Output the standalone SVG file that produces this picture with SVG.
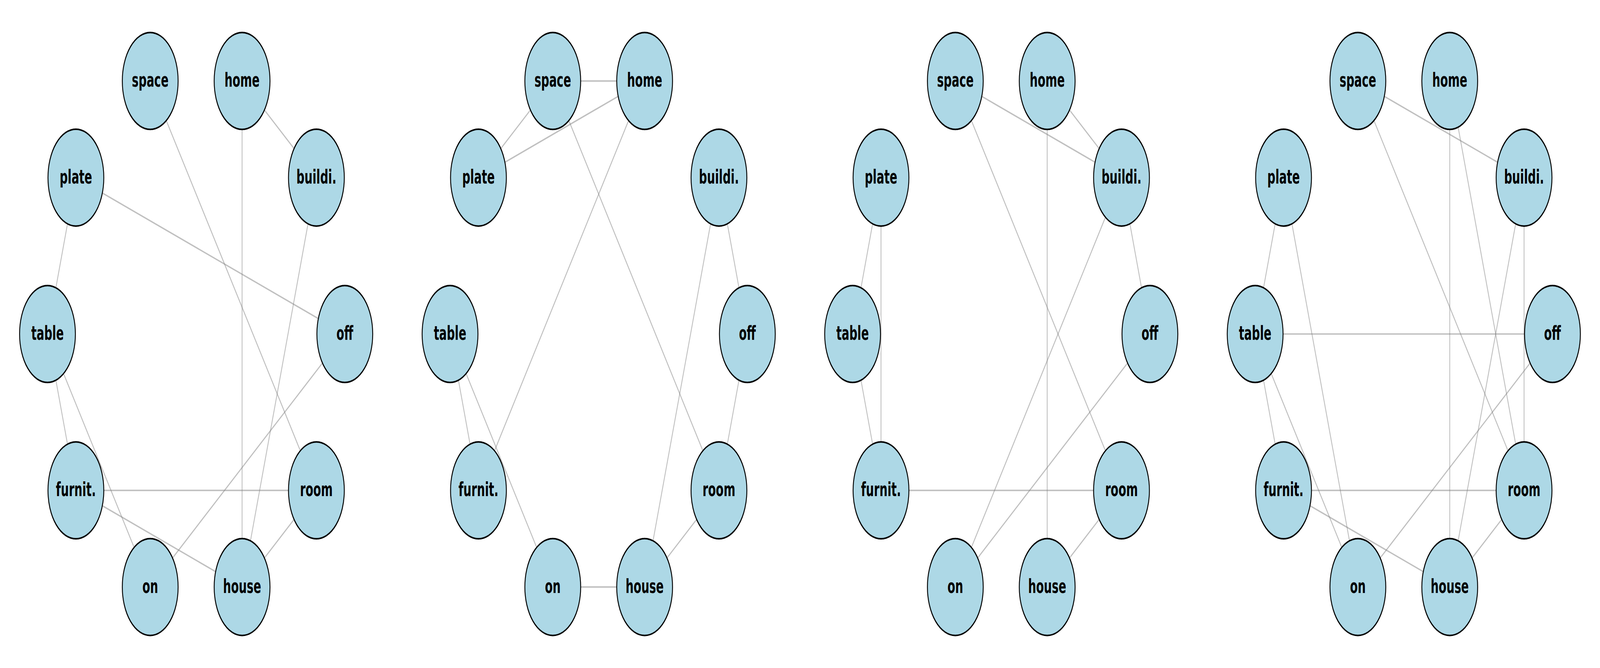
<svg xmlns="http://www.w3.org/2000/svg" width="7109" height="1710" viewBox="0 0 7109 1710" preserveAspectRatio="none" style="width:100vw;height:100vh">
<style>
.edges line { stroke:#808080; stroke-opacity:0.5; stroke-width:3.7; fill:none; }
.node circle { fill:#ADD8E6; stroke:#000000; stroke-width:4; }
.node text { font-family:"DejaVu Sans", "Liberation Sans", sans-serif; font-weight:bold; font-size:50px; text-anchor:middle; fill:#000000; }
</style>
<rect x="0" y="0" width="7109" height="1710" fill="#ffffff"/>

<g id="panel1" transform="translate(0,0)">
<g id="p1-edges" class="edges">
<line x1="1075.6" y1="207.3" x2="1405.8" y2="454.7"/>
<line x1="667.4" y1="207.3" x2="1405.8" y2="1255.3"/>
<line x1="1075.6" y1="207.3" x2="1075.6" y2="1502.7"/>
<line x1="337.2" y1="454.7" x2="1532" y2="855"/>
<line x1="1405.8" y1="454.7" x2="1075.6" y2="1502.7"/>
<line x1="337.2" y1="454.7" x2="211" y2="855"/>
<line x1="211" y1="855" x2="337.2" y2="1255.3"/>
<line x1="211" y1="855" x2="667.4" y2="1502.7"/>
<line x1="1532" y1="855" x2="667.4" y2="1502.7"/>
<line x1="337.2" y1="1255.3" x2="1405.8" y2="1255.3"/>
<line x1="337.2" y1="1255.3" x2="1075.6" y2="1502.7"/>
<line x1="1405.8" y1="1255.3" x2="1075.6" y2="1502.7"/>
</g>
<g id="p1-space" class="node"><circle cx="667.4" cy="207.3" r="124"/><text x="667.4" y="222.3">space</text></g>
<g id="p1-home" class="node"><circle cx="1075.6" cy="207.3" r="124"/><text x="1075.6" y="222.3">home</text></g>
<g id="p1-buildi" class="node"><circle cx="1405.8" cy="454.7" r="124"/><text x="1405.8" y="469.7">buildi.</text></g>
<g id="p1-off" class="node"><circle cx="1532" cy="855" r="124"/><text x="1532" y="870">off</text></g>
<g id="p1-room" class="node"><circle cx="1405.8" cy="1255.3" r="124"/><text x="1405.8" y="1270.3">room</text></g>
<g id="p1-house" class="node"><circle cx="1075.6" cy="1502.7" r="124"/><text x="1075.6" y="1517.7">house</text></g>
<g id="p1-on" class="node"><circle cx="667.4" cy="1502.7" r="124"/><text x="667.4" y="1517.7">on</text></g>
<g id="p1-furnit" class="node"><circle cx="337.2" cy="1255.3" r="124"/><text x="337.2" y="1270.3">furnit.</text></g>
<g id="p1-table" class="node"><circle cx="211" cy="855" r="124"/><text x="211" y="870">table</text></g>
<g id="p1-plate" class="node"><circle cx="337.2" cy="454.7" r="124"/><text x="337.2" y="469.7">plate</text></g>
</g>

<g id="panel2" transform="translate(1788.6,0)">
<g id="p2-edges" class="edges">
<line x1="667.4" y1="207.3" x2="1075.6" y2="207.3"/>
<line x1="667.4" y1="207.3" x2="337.2" y2="454.7"/>
<line x1="337.2" y1="454.7" x2="1075.6" y2="207.3"/>
<line x1="1075.6" y1="207.3" x2="337.2" y2="1255.3"/>
<line x1="667.4" y1="207.3" x2="1405.8" y2="1255.3"/>
<line x1="1405.8" y1="454.7" x2="1532" y2="855"/>
<line x1="1405.8" y1="454.7" x2="1075.6" y2="1502.7"/>
<line x1="1532" y1="855" x2="1405.8" y2="1255.3"/>
<line x1="1405.8" y1="1255.3" x2="1075.6" y2="1502.7"/>
<line x1="667.4" y1="1502.7" x2="1075.6" y2="1502.7"/>
<line x1="211" y1="855" x2="337.2" y2="1255.3"/>
<line x1="211" y1="855" x2="667.4" y2="1502.7"/>
</g>
<g id="p2-space" class="node"><circle cx="667.4" cy="207.3" r="124"/><text x="667.4" y="222.3">space</text></g>
<g id="p2-home" class="node"><circle cx="1075.6" cy="207.3" r="124"/><text x="1075.6" y="222.3">home</text></g>
<g id="p2-buildi" class="node"><circle cx="1405.8" cy="454.7" r="124"/><text x="1405.8" y="469.7">buildi.</text></g>
<g id="p2-off" class="node"><circle cx="1532" cy="855" r="124"/><text x="1532" y="870">off</text></g>
<g id="p2-room" class="node"><circle cx="1405.8" cy="1255.3" r="124"/><text x="1405.8" y="1270.3">room</text></g>
<g id="p2-house" class="node"><circle cx="1075.6" cy="1502.7" r="124"/><text x="1075.6" y="1517.7">house</text></g>
<g id="p2-on" class="node"><circle cx="667.4" cy="1502.7" r="124"/><text x="667.4" y="1517.7">on</text></g>
<g id="p2-furnit" class="node"><circle cx="337.2" cy="1255.3" r="124"/><text x="337.2" y="1270.3">furnit.</text></g>
<g id="p2-table" class="node"><circle cx="211" cy="855" r="124"/><text x="211" y="870">table</text></g>
<g id="p2-plate" class="node"><circle cx="337.2" cy="454.7" r="124"/><text x="337.2" y="469.7">plate</text></g>
</g>

<g id="panel3" transform="translate(3577.2,0)">
<g id="p3-edges" class="edges">
<line x1="667.4" y1="207.3" x2="1405.8" y2="454.7"/>
<line x1="1075.6" y1="207.3" x2="1405.8" y2="454.7"/>
<line x1="1075.6" y1="207.3" x2="1075.6" y2="1502.7"/>
<line x1="667.4" y1="207.3" x2="1405.8" y2="1255.3"/>
<line x1="1405.8" y1="454.7" x2="667.4" y2="1502.7"/>
<line x1="1405.8" y1="454.7" x2="1532" y2="855"/>
<line x1="337.2" y1="454.7" x2="211" y2="855"/>
<line x1="337.2" y1="454.7" x2="337.2" y2="1255.3"/>
<line x1="211" y1="855" x2="337.2" y2="1255.3"/>
<line x1="337.2" y1="1255.3" x2="1405.8" y2="1255.3"/>
<line x1="1532" y1="855" x2="667.4" y2="1502.7"/>
<line x1="1405.8" y1="1255.3" x2="1075.6" y2="1502.7"/>
</g>
<g id="p3-space" class="node"><circle cx="667.4" cy="207.3" r="124"/><text x="667.4" y="222.3">space</text></g>
<g id="p3-home" class="node"><circle cx="1075.6" cy="207.3" r="124"/><text x="1075.6" y="222.3">home</text></g>
<g id="p3-buildi" class="node"><circle cx="1405.8" cy="454.7" r="124"/><text x="1405.8" y="469.7">buildi.</text></g>
<g id="p3-off" class="node"><circle cx="1532" cy="855" r="124"/><text x="1532" y="870">off</text></g>
<g id="p3-room" class="node"><circle cx="1405.8" cy="1255.3" r="124"/><text x="1405.8" y="1270.3">room</text></g>
<g id="p3-house" class="node"><circle cx="1075.6" cy="1502.7" r="124"/><text x="1075.6" y="1517.7">house</text></g>
<g id="p3-on" class="node"><circle cx="667.4" cy="1502.7" r="124"/><text x="667.4" y="1517.7">on</text></g>
<g id="p3-furnit" class="node"><circle cx="337.2" cy="1255.3" r="124"/><text x="337.2" y="1270.3">furnit.</text></g>
<g id="p3-table" class="node"><circle cx="211" cy="855" r="124"/><text x="211" y="870">table</text></g>
<g id="p3-plate" class="node"><circle cx="337.2" cy="454.7" r="124"/><text x="337.2" y="469.7">plate</text></g>
</g>

<g id="panel4" transform="translate(5365.8,0)">
<g id="p4-edges" class="edges">
<line x1="667.4" y1="207.3" x2="1405.8" y2="454.7"/>
<line x1="667.4" y1="207.3" x2="1405.8" y2="1255.3"/>
<line x1="1075.6" y1="207.3" x2="1075.6" y2="1502.7"/>
<line x1="1075.6" y1="207.3" x2="1405.8" y2="1255.3"/>
<line x1="1405.8" y1="454.7" x2="1075.6" y2="1502.7"/>
<line x1="1405.8" y1="454.7" x2="1405.8" y2="1255.3"/>
<line x1="337.2" y1="454.7" x2="211" y2="855"/>
<line x1="337.2" y1="454.7" x2="667.4" y2="1502.7"/>
<line x1="211" y1="855" x2="1532" y2="855"/>
<line x1="211" y1="855" x2="337.2" y2="1255.3"/>
<line x1="211" y1="855" x2="667.4" y2="1502.7"/>
<line x1="337.2" y1="1255.3" x2="1405.8" y2="1255.3"/>
<line x1="337.2" y1="1255.3" x2="1075.6" y2="1502.7"/>
<line x1="1532" y1="855" x2="667.4" y2="1502.7"/>
<line x1="1405.8" y1="1255.3" x2="1075.6" y2="1502.7"/>
</g>
<g id="p4-space" class="node"><circle cx="667.4" cy="207.3" r="124"/><text x="667.4" y="222.3">space</text></g>
<g id="p4-home" class="node"><circle cx="1075.6" cy="207.3" r="124"/><text x="1075.6" y="222.3">home</text></g>
<g id="p4-buildi" class="node"><circle cx="1405.8" cy="454.7" r="124"/><text x="1405.8" y="469.7">buildi.</text></g>
<g id="p4-off" class="node"><circle cx="1532" cy="855" r="124"/><text x="1532" y="870">off</text></g>
<g id="p4-room" class="node"><circle cx="1405.8" cy="1255.3" r="124"/><text x="1405.8" y="1270.3">room</text></g>
<g id="p4-house" class="node"><circle cx="1075.6" cy="1502.7" r="124"/><text x="1075.6" y="1517.7">house</text></g>
<g id="p4-on" class="node"><circle cx="667.4" cy="1502.7" r="124"/><text x="667.4" y="1517.7">on</text></g>
<g id="p4-furnit" class="node"><circle cx="337.2" cy="1255.3" r="124"/><text x="337.2" y="1270.3">furnit.</text></g>
<g id="p4-table" class="node"><circle cx="211" cy="855" r="124"/><text x="211" y="870">table</text></g>
<g id="p4-plate" class="node"><circle cx="337.2" cy="454.7" r="124"/><text x="337.2" y="469.7">plate</text></g>
</g>
</svg>
